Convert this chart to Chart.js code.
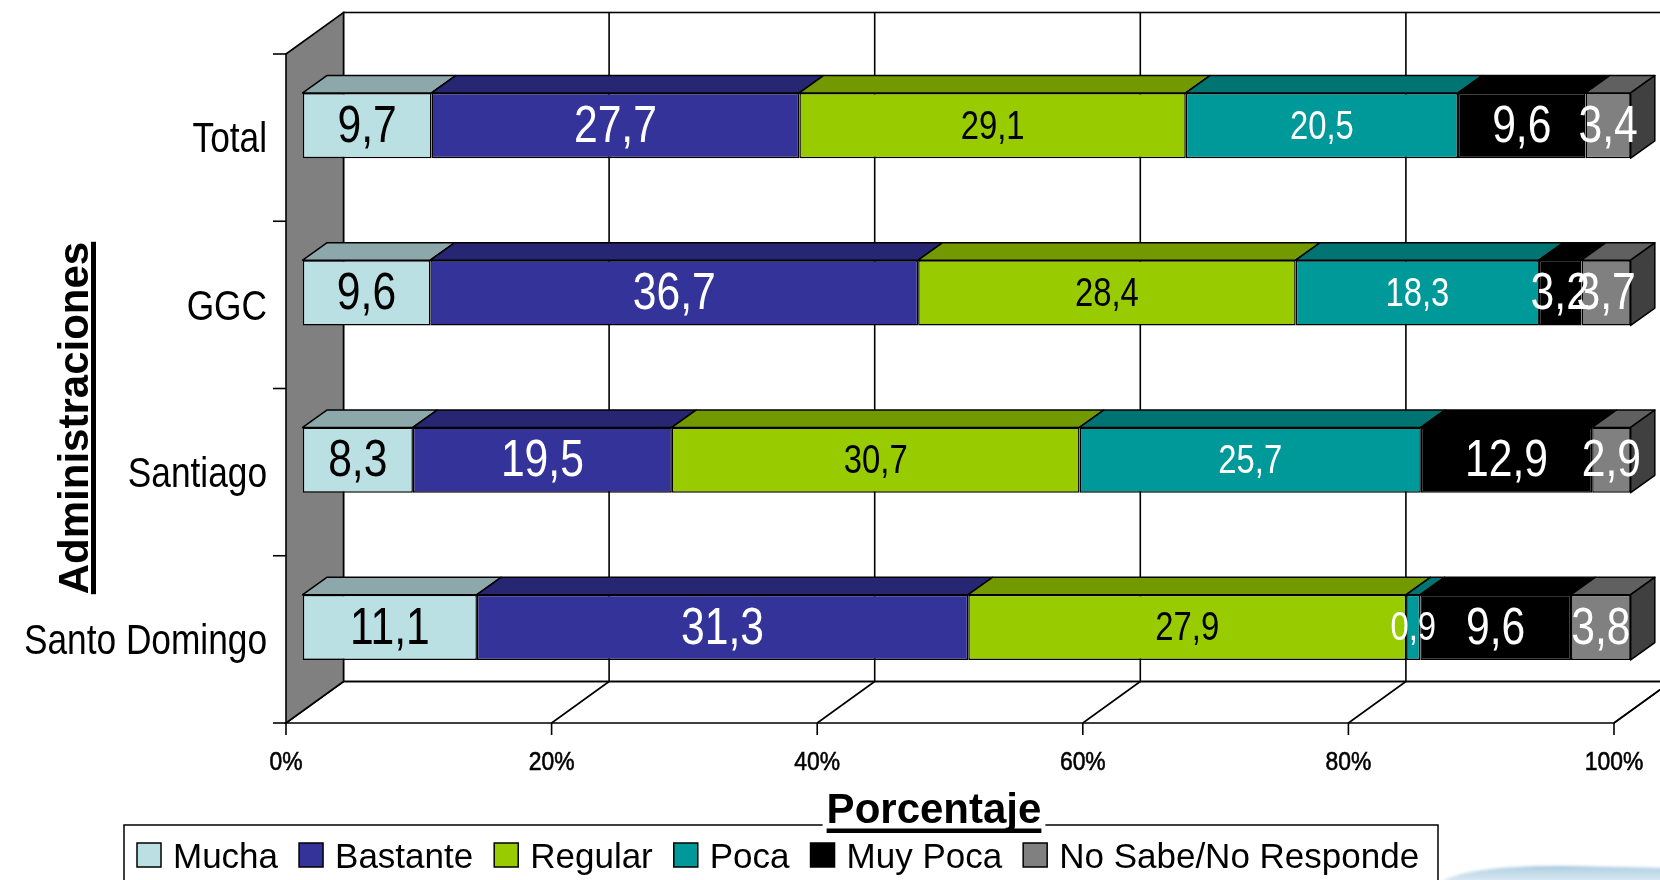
<!DOCTYPE html>
<html>
<head>
<meta charset="utf-8">
<title>Administraciones</title>
<script src="https://cdn.jsdelivr.net/npm/chart.js@4.4.1/dist/chart.umd.min.js"></script>
<style>
  html, body { margin: 0; padding: 0; background: #fff; }
  #wrap { width: 1660px; height: 880px; }
</style>
</head>
<body>
<div id="wrap"><canvas id="myChart" width="1660" height="880"></canvas></div>
<script>
// respuestas por administracion (%)
const categorias = ['Total', 'GGC', 'Santiago', 'Santo Domingo'];
const mucha    = [9.7, 9.6, 8.3, 11.1];
const bastante = [27.7, 36.7, 19.5, 31.3];
const regular  = [29.1, 28.4, 30.7, 27.9];
const poca     = [20.5, 18.3, 25.7, 0.9];
const muyPoca  = [9.6, 3.2, 12.9, 9.6];
const noSabe   = [3.4, 3.7, 2.9, 3.8];
const nombres  = ['Mucha', 'Bastante', 'Regular', 'Poca', 'Muy Poca', 'No Sabe/No Responde'];
const ticksX   = [0, 20, 40, 60, 80, 100];

// estilos de cada serie
const colores   = ['#BBE0E3', '#333399', '#99CC00', '#009999', '#000000', '#808080'];
const techos    = ['#8CA8AA', '#262673', '#739900', '#007373', '#000000', '#606060'];
const laterales = ['#5E7072', '#1A1A4D', '#4D6600', '#004D4D', '#000000', '#404040'];
const colTexto  = ['#000', '#fff', '#000', '#fff', '#fff', '#fff'];
const tamTexto  = [52, 52, 40, 40, 52, 52];

const SANS = '"Liberation Sans", Arial, sans-serif';
const ESTRECHO = 0.82; // ancho de la letra condensada

// profundidad 3D
const DX = 57.5, DY = -41.5;
const F0 = 0.29, F1 = 0.71;

const series = [mucha, bastante, regular, poca, muyPoca, noSabe];
const totales = categorias.map((c, i) => series.reduce((s, arr) => s + arr[i], 0));
const aPorcentaje = arr => arr.map((v, i) => v / totales[i] * 100);
const fmt = v => v.toFixed(1).replace('.', ',');

const datasets = series.map((arr, k) => ({
    label: nombres[k],
    data: aPorcentaje(arr),
    valores: arr,
    backgroundColor: colores[k],
    borderColor: '#000',
    borderWidth: 1.5,
    borderSkipped: false,
    barPercentage: 0.39,
    categoryPercentage: 1
}));

function linea(ctx, pts, close) {
    ctx.beginPath();
    ctx.moveTo(pts[0][0], pts[0][1]);
    for (let i = 1; i < pts.length; i++) ctx.lineTo(pts[i][0], pts[i][1]);
    if (close) ctx.closePath();
}

// texto condensado horizontalmente
function textoEstrecho(ctx, txt, x, y, escala, grueso) {
    ctx.save();
    ctx.translate(x, y);
    ctx.scale(escala || ESTRECHO, 1);
    ctx.fillText(txt, 0, 0);
    if (grueso) {
        ctx.lineWidth = grueso;
        ctx.strokeStyle = ctx.fillStyle;
        ctx.strokeText(txt, 0, 0);
    }
    ctx.restore();
}

const efecto3d = {
    id: 'efecto3d',
    beforeDatasetsDraw(chart) {
        const ctx = chart.ctx;
        const xs = chart.scales.x, ys = chart.scales.y;
        const a = chart.chartArea;
        const x0 = xs.getPixelForValue(0), x1 = xs.getPixelForValue(100);
        ctx.save();
        ctx.lineWidth = 1.6;
        ctx.strokeStyle = '#000';
        // pared del fondo
        ctx.fillStyle = '#fff';
        ctx.fillRect(x0 + DX, a.top + DY, x1 - x0, a.bottom - a.top);
        ctx.strokeRect(x0 + DX, a.top + DY, x1 - x0, a.bottom - a.top);
        // suelo
        linea(ctx, [[x0, a.bottom], [x1, a.bottom], [x1 + DX, a.bottom + DY], [x0 + DX, a.bottom + DY]], true);
        ctx.stroke();
        // lineas de division y etiquetas del eje x
        ctx.fillStyle = '#000';
        ctx.font = '26px ' + SANS;
        ctx.textAlign = 'center';
        ctx.textBaseline = 'alphabetic';
        ticksX.forEach(v => {
            const x = xs.getPixelForValue(v);
            if (v > 0) {
                linea(ctx, [[x + DX, a.top + DY], [x + DX, a.bottom + DY], [x, a.bottom]]);
                ctx.stroke();
            }
            linea(ctx, [[x, a.bottom], [x, a.bottom + 12]]);
            ctx.stroke();
            textoEstrecho(ctx, v + '%', x, a.bottom + 47, 0.88, 0.6);
        });
        // pared lateral
        ctx.fillStyle = '#808080';
        linea(ctx, [[x0, a.top], [x0 + DX, a.top + DY], [x0 + DX, a.bottom + DY], [x0, a.bottom]], true);
        ctx.fill();
        ctx.stroke();
        // marcas y nombres del eje de categorias
        for (let i = 0; i <= categorias.length; i++) {
            const y = ys.getPixelForValue(i - 0.5);
            linea(ctx, [[x0 - 13, y], [x0, y]]);
            ctx.stroke();
        }
        ctx.fillStyle = '#000';
        ctx.font = '43px ' + SANS;
        ctx.textAlign = 'right';
        ctx.textBaseline = 'middle';
        categorias.forEach((c, j) => {
            textoEstrecho(ctx, c, x0 - 19, ys.getPixelForValue(j) + 3);
        });
        ctx.restore();
        // las caras frontales se dibujan desplazadas hacia el fondo
        ctx.save();
        ctx.translate(F0 * DX, F0 * DY);
    },
    afterDatasetsDraw(chart) {
        const ctx = chart.ctx;
        ctx.restore();
        const ox = F0 * DX, oy = F0 * DY;
        const bx = (F1 - F0) * DX, by = (F1 - F0) * DY;
        const nSeries = chart.data.datasets.length;
        ctx.save();
        ctx.lineWidth = 1.5;
        ctx.strokeStyle = '#000';
        ctx.lineJoin = 'round';
        categorias.forEach((c, j) => {
            for (let k = 0; k < nSeries; k++) {
                const bar = chart.getDatasetMeta(k).data[j];
                const p = bar.getProps(['x', 'y', 'base', 'height'], true);
                const L = Math.min(p.x, p.base) + ox, R = Math.max(p.x, p.base) + ox;
                const T = p.y - p.height / 2 + oy, B = p.y + p.height / 2 + oy;
                ctx.fillStyle = techos[k];
                linea(ctx, [[L, T], [R, T], [R + bx, T + by], [L + bx, T + by]], true);
                ctx.fill();
                ctx.stroke();
                if (k === nSeries - 1) {
                    ctx.fillStyle = laterales[k];
                    linea(ctx, [[R, T], [R + bx, T + by], [R + bx, B + by], [R, B]], true);
                    ctx.fill();
                    ctx.stroke();
                }
            }
        });
        // etiquetas de valor
        ctx.textAlign = 'center';
        ctx.textBaseline = 'middle';
        chart.data.datasets.forEach((ds, k) => {
            ctx.font = tamTexto[k] + 'px ' + SANS;
            ctx.fillStyle = colTexto[k];
            chart.getDatasetMeta(k).data.forEach((bar, j) => {
                const p = bar.getProps(['x', 'y', 'base'], true);
                textoEstrecho(ctx, fmt(ds.valores[j]), (p.x + p.base) / 2 + ox, p.y + oy + 2);
            });
        });
        ctx.restore();
    },
    afterDraw(chart) {
        const ctx = chart.ctx;
        ctx.save();
        // leyenda
        ctx.lineWidth = 1.5;
        ctx.strokeStyle = '#000';
        ctx.fillStyle = '#fff';
        ctx.fillRect(124, 825, 1314, 70);
        ctx.strokeRect(124, 825, 1314, 70);
        ctx.font = '35px ' + SANS;
        ctx.textBaseline = 'alphabetic';
        let x = 137;
        chart.data.datasets.forEach((ds, k) => {
            ctx.fillStyle = colores[k];
            ctx.fillRect(x, 843, 24, 24);
            ctx.strokeRect(x, 843, 24, 24);
            ctx.fillStyle = '#000';
            ctx.fillText(ds.label, x + 36, 868);
            x += 36 + ctx.measureText(ds.label).width + 21;
        });
        // titulo eje x
        ctx.font = 'bold 42px ' + SANS;
        const tx = 'Porcentaje';
        const wx = ctx.measureText(tx).width;
        ctx.fillStyle = '#fff';
        ctx.fillRect(934 - wx / 2 - 4, 792, wx + 8, 44);
        ctx.fillStyle = '#000';
        ctx.textAlign = 'center';
        ctx.fillText(tx, 934, 823);
        ctx.fillRect(934 - wx / 2, 828.5, wx, 4.5);
        // titulo eje y
        const ty = 'Administraciones';
        ctx.translate(88, 418);
        ctx.rotate(-Math.PI / 2);
        const wy = ctx.measureText(ty).width;
        ctx.fillText(ty, 0, 0);
        ctx.fillRect(-wy / 2, 3, wy, 5);
        ctx.restore();
        // adorno azul en la esquina
        ctx.save();
        ctx.filter = 'blur(1.5px)';
        const g = ctx.createLinearGradient(0, 864, 0, 880);
        g.addColorStop(0, '#8db4cf');
        g.addColorStop(0.35, '#b9d5e6');
        g.addColorStop(1, '#d6e7f1');
        ctx.fillStyle = g;
        ctx.beginPath();
        ctx.moveTo(1438, 884);
        ctx.quadraticCurveTo(1460, 866, 1560, 866);
        ctx.lineTo(1664, 868);
        ctx.lineTo(1664, 884);
        ctx.closePath();
        ctx.fill();
        ctx.restore();
    }
};

const config = {
    type: 'bar',
    data: {
        labels: categorias,
        datasets: datasets
    },
    options: {
        indexAxis: 'y',
        responsive: false,
        animation: false,
        layout: {
            padding: { top: 54, right: 46, left: 0, bottom: 0 }
        },
        plugins: {
            legend: { display: false },
            tooltip: { enabled: false }
        },
        scales: {
            x: {
                stacked: true,
                min: 0,
                max: 100,
                grid: { display: false },
                border: { display: false },
                afterFit: s => { s.height = 157; },
                afterBuildTicks: s => { s.ticks = ticksX.map(v => ({ value: v })); },
                ticks: { display: false }
            },
            y: {
                stacked: true,
                grid: { display: false },
                border: { display: false },
                afterFit: s => { s.width = 286; },
                ticks: { display: false }
            }
        }
    },
    plugins: [efecto3d]
};

const myChart = new Chart(document.getElementById('myChart'), config);
</script>
</body>
</html>
